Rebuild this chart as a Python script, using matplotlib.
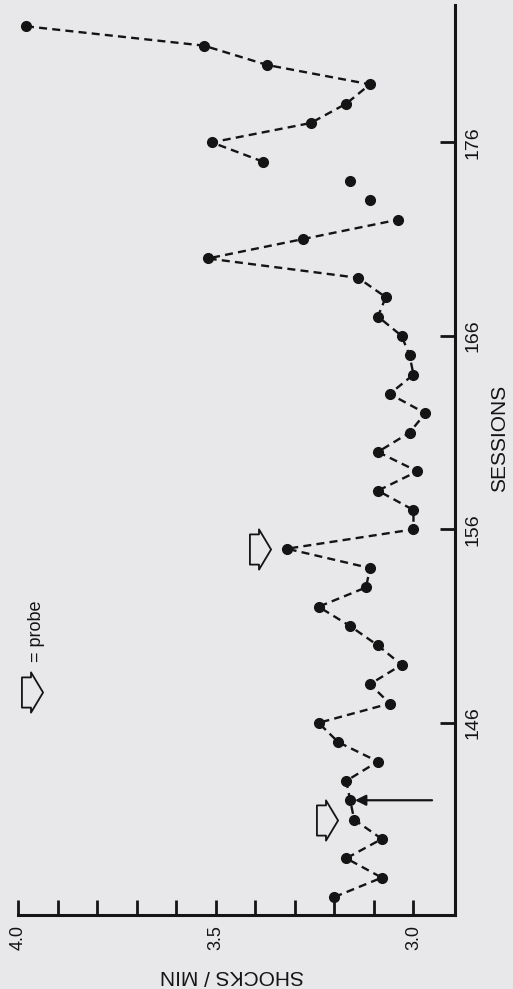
import numpy as np
import matplotlib.pyplot as plt
from matplotlib.path import Path

plt.rcParams['font.family'] = ['Liberation Sans', 'DejaVu Sans']

# shocks per minute for each session
sessions = [137, 138, 139, 140, 141, 142, 143, 144, 145, 146,
            147, 148, 149, 150, 151, 152, 153, 154, 155, 156,
            157, 158, 159, 160, 161, 162, 163, 164, 165, 166,
            167, 168, 169, 170, 171, 172, 173, 174, 175, 176,
            177, 178, 179, 180, 181, 182]
shocks = [3.20, 3.08, 3.17, 3.08, 3.15, 3.16, 3.17, 3.09, 3.19, 3.24,
          3.06, 3.11, 3.03, 3.09, 3.16, 3.24, 3.12, 3.11, 3.32, 3.00,
          3.00, 3.09, 2.99, 3.09, 3.01, 2.97, 3.06, 3.00, 3.01, 3.03,
          3.09, 3.07, 3.14, 3.52, 3.28, 3.04, 3.11, 3.16, 3.38, 3.51,
          3.26, 3.17, 3.11, 3.37, 3.53, 3.98]

# sessions joined by the dashed line (173 and 174 stand alone)
runs = [(137, 172), (175, 182)]
probe_sessions = [141, 155]
arrow_session = 142

session_ticks = [146, 156, 166, 176]
shock_ticks = [4.0, 3.5, 3.0]
shock_minor = [4.0, 3.9, 3.8, 3.7, 3.6, 3.5, 3.4, 3.3, 3.2, 3.1, 3.0]

bg = '#e8e8ea'
ink = '#141414'

sess = np.array(sessions)
shk = np.array(shocks)

fig = plt.figure(figsize=(5.13, 9.89), dpi=100, facecolor=bg)
ax = fig.add_axes([18 / 513, 74 / 989, 437 / 513, 910 / 989])
ax.set_facecolor(bg)
ax.set_xlim(4.0, 2.895)
ax.set_ylim(136.07, 183.1)

for a, b in runs:
    m = (sess >= a) & (sess <= b)
    ax.plot(shk[m], sess[m], color=ink, lw=1.7, ls=(0, (3.4, 2.2)),
            dash_capstyle='butt')
ax.plot(shk, sess, 'o', color=ink, ms=7, ls='none')

# open block-arrow marker used for probe sessions
verts = [(-10.5, -15), (-1.5, -15), (-1.5, -20), (10.5, 0), (-1.5, 20),
         (-1.5, 15), (-10.5, 15), (-10.5, -15)]
codes = [Path.MOVETO] + [Path.LINETO] * 6 + [Path.CLOSEPOLY]
probe = Path(verts, codes)

for s in probe_sessions:
    v = shk[sess == s][0]
    ax.plot(v + 0.068, s, marker=probe, ms=29, mfc='none', mec=ink, mew=1.3,
            ls='none')

v = shk[sess == arrow_session][0]
ax.annotate('', xy=(v - 0.012, arrow_session), xytext=(2.953, arrow_session),
            arrowprops=dict(arrowstyle='-|>', color=ink, lw=1.6,
                            mutation_scale=16, shrinkA=0, shrinkB=0))

# key
ax.plot(0.032, 0.245, marker=probe, ms=29, mfc='none', mec=ink, mew=1.3,
        ls='none', transform=ax.transAxes, clip_on=False)
ax.text(0.043, 0.312, '= probe', rotation=90, ha='center', va='center',
        fontsize=13, color=ink, transform=ax.transAxes)

for side in ['left', 'top']:
    ax.spines[side].set_visible(False)
for side in ['bottom', 'right']:
    ax.spines[side].set_linewidth(2.2)
    ax.spines[side].set_color(ink)

ax.set_xticks(shock_ticks)
ax.set_xticklabels(['4.0', '3.5', '3.0'])
ax.set_xticks(shock_minor, minor=True)
ax.tick_params(axis='x', which='both', direction='in', length=11, width=2,
               color=ink, pad=7, labelsize=13, labelrotation=90,
               labelcolor=ink)

ax.yaxis.tick_right()
ax.set_yticks(session_ticks)
ax.tick_params(axis='y', direction='in', length=11, width=2, color=ink,
               pad=7, labelsize=14, labelrotation=90, labelcolor=ink)
for lbl in ax.get_yticklabels():
    lbl.set_va('center')

fig.text(232 / 513, 1 - 975 / 989, 'SHOCKS / MIN', rotation=180,
         ha='center', va='center', fontsize=15, color=ink)
fig.text(500 / 513, 1 - 438 / 989, 'SESSIONS', rotation=90,
         ha='center', va='center', fontsize=15, color=ink)

fig.savefig('out.png', dpi=100, facecolor=bg)
